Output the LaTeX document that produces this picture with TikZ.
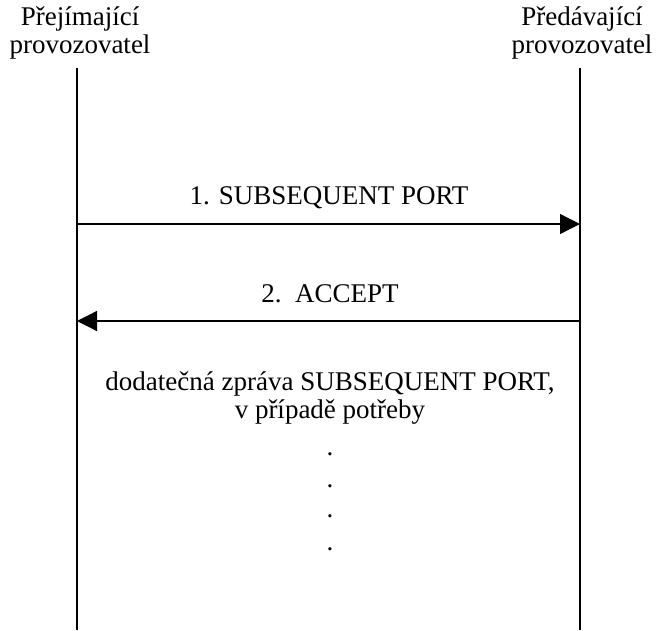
\documentclass[tikz,border=0pt]{standalone}
\usepackage{fontspec}
\setmainfont{Liberation Serif}
\usetikzlibrary{arrows.meta}
\begin{document}
\begin{tikzpicture}[x=1pt,y=-1pt,
  lbl/.style={font=\fontsize{27}{28}\selectfont, inner sep=0pt, anchor=base, align=center},
  life/.style={line width=1.3pt},
  msg/.style={line width=1.3pt, -{Triangle[length=20pt,width=20pt]}, shorten >=0pt}]
\useasboundingbox (0,0) rectangle (656,630);
\node[lbl] (hl) at (80,53) {Přejímající\\provozovatel};
\node[lbl] (hr) at (582,53) {Předávající\\provozovatel};
\coordinate (lt) at (77,68);
\coordinate (lb) at (77,630);
\coordinate (rt) at (580,68);
\coordinate (rb) at (580,630);
\draw[life] (lt) -- (lb);
\draw[life] (rt) -- (rb);
\coordinate (a1s) at (77,224);
\coordinate (a1e) at (580,224);
\coordinate (a2s) at (580,321);
\coordinate (a2e) at (77,321);
\draw[msg] (a1s) -- (a1e);
\draw[msg] (a2s) -- (a2e);
\node[lbl] (m1) at (329,204) {1. SUBSEQUENT PORT};
\node[lbl] (m2) at (330,302) {2.\ \ ACCEPT};
\node[lbl] (m3) at (330,418) {dodatečná zpráva SUBSEQUENT PORT,\\v případě potřeby};
\node[lbl] (d1) at (330,455) {.};
\node[lbl] (d2) at (330,487) {.};
\node[lbl] (d3) at (330,517) {.};
\node[lbl] (d4) at (330,550) {.};
\end{tikzpicture}
\end{document}
